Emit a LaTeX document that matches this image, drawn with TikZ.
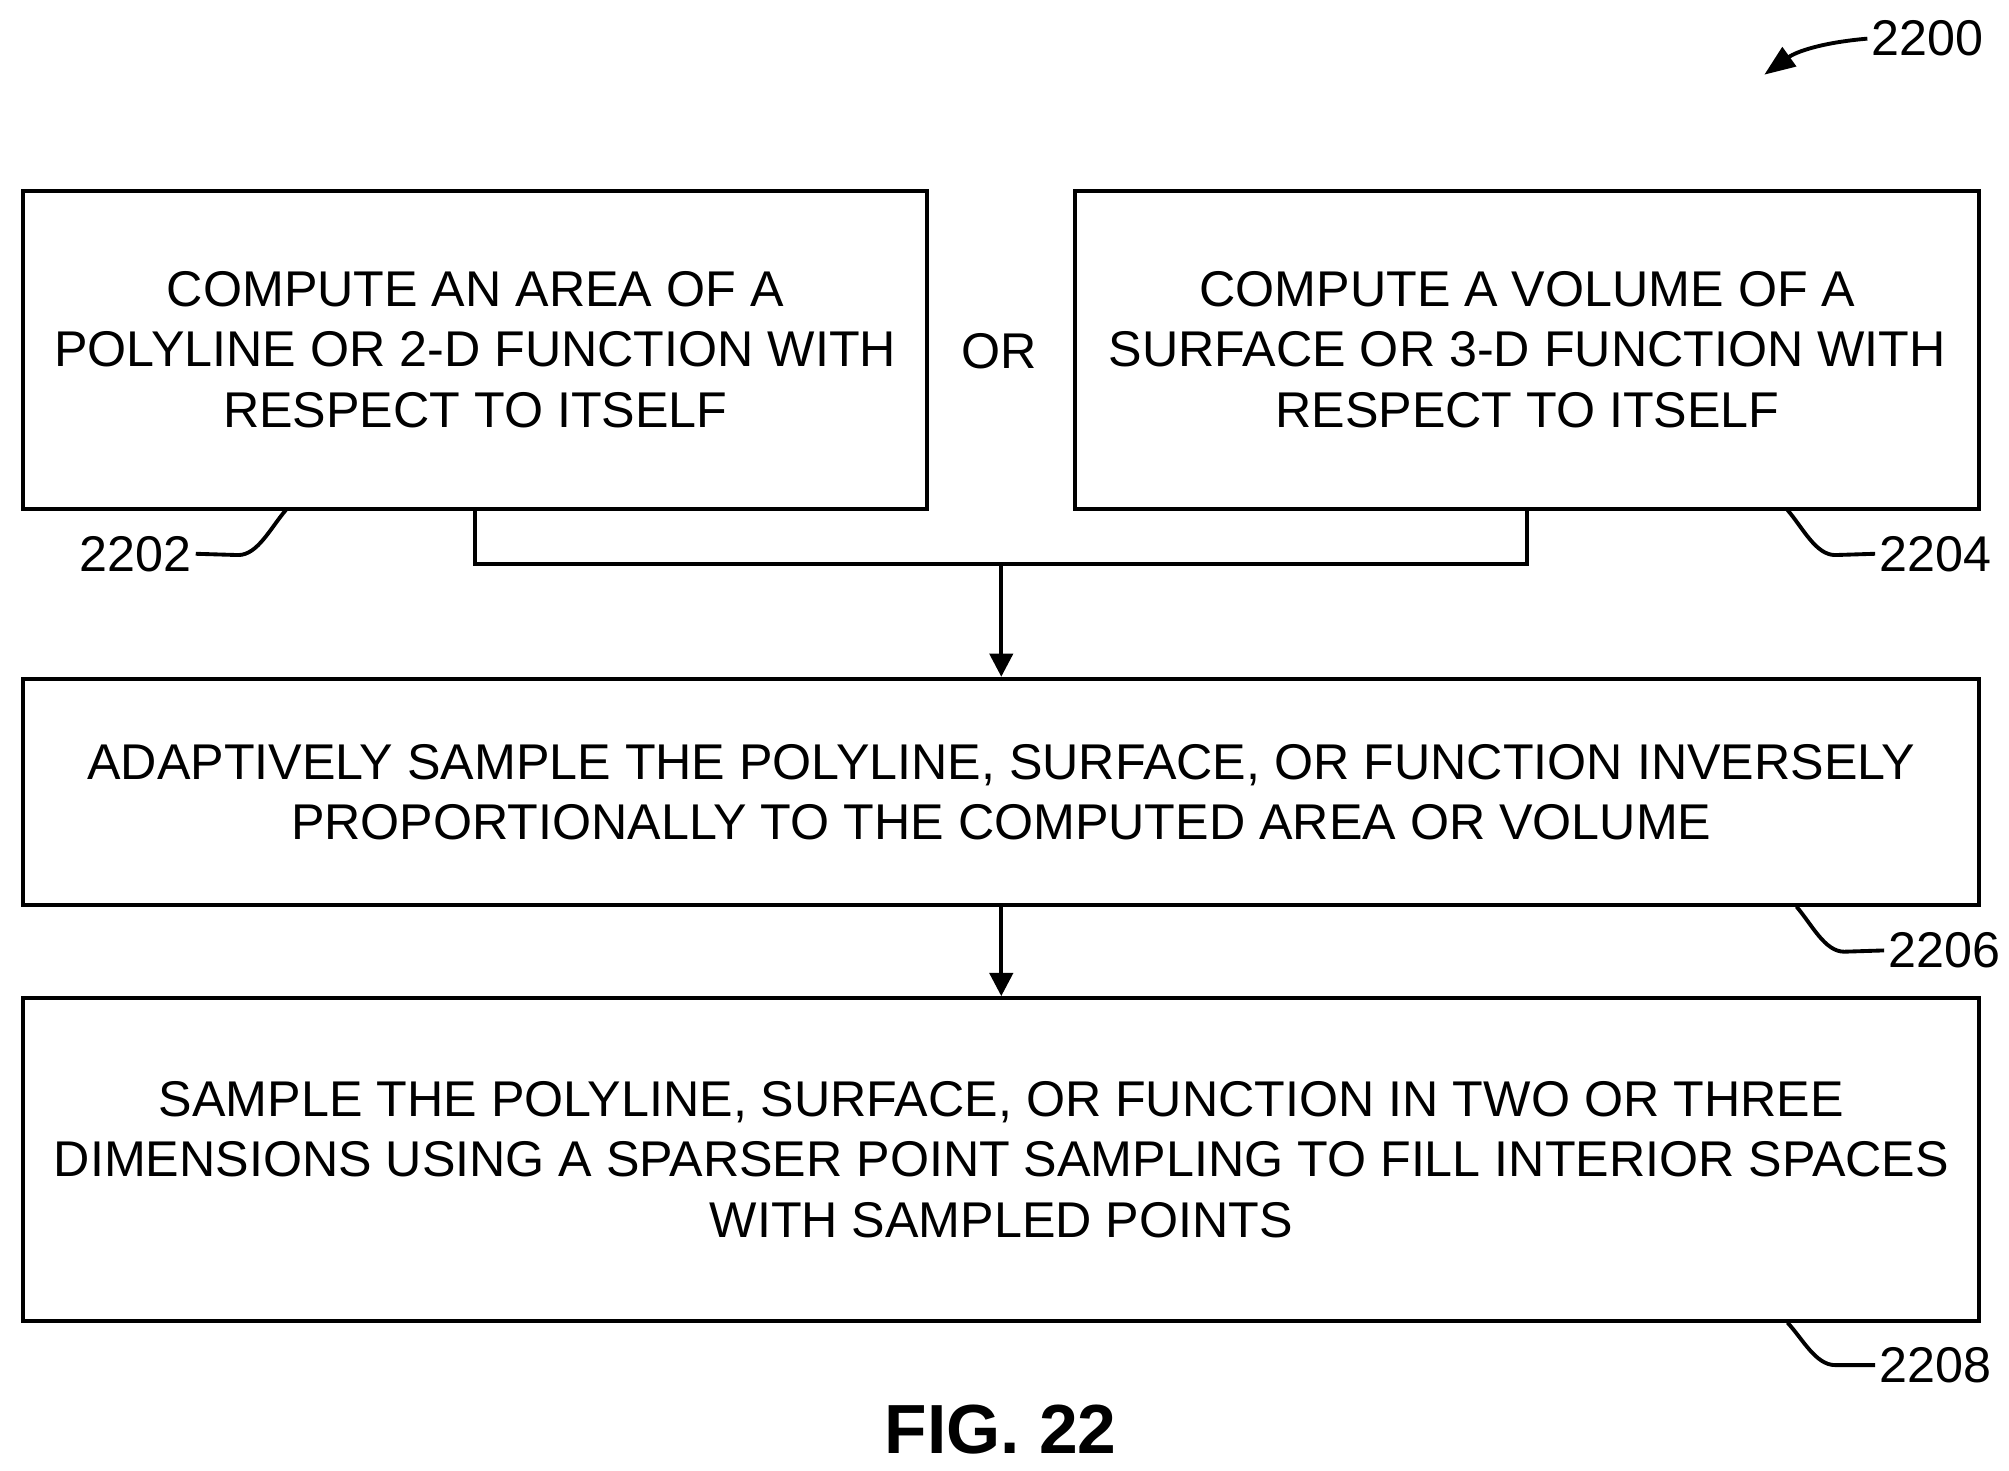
\documentclass[tikz,border=0pt]{standalone}
\usepackage{fontspec}
\setmainfont{Liberation Sans}
\usetikzlibrary{arrows.meta}
\tikzset{every picture/.style={line width=1.5pt}}
\tikzset{
  stepbox/.style={draw,rectangle,align=center,inner sep=0pt,
    font=\fontsize{19.5}{23.5}\selectfont},
  reflabel/.style={font=\fontsize{19.5}{23.5}\selectfont,inner sep=1pt},
  flow/.style={-{Triangle[length=9pt,width=9pt]}}
}

\begin{document}
\begin{tikzpicture}[x=0.5pt,y=0.5pt,yscale=-1,xscale=1]
        \useasboundingbox (0,0) rectangle (1560,1142);

        % Boxes
        \node [stepbox,minimum width=351pt,minimum height=123.5pt] (area) at (369,271.5)
          {COMPUTE AN AREA OF A\\POLYLINE OR 2-D FUNCTION WITH\\RESPECT TO ITSELF};
        \node [stepbox,minimum width=351pt,minimum height=123.5pt] (volume) at (1186,271.5)
          {COMPUTE A VOLUME OF A\\SURFACE OR 3-D FUNCTION WITH\\RESPECT TO ITSELF};
        \node [reflabel] (or) at (776,273) {OR};
        \node [stepbox,minimum width=759.5pt,minimum height=88pt] (adapt) at (777.5,615)
          {ADAPTIVELY SAMPLE THE POLYLINE, SURFACE, OR FUNCTION INVERSELY\\PROPORTIONALLY TO THE COMPUTED AREA OR VOLUME};
        \node [stepbox,minimum width=759.5pt,minimum height=125.5pt] (sparse) at (777.5,900.5)
          {SAMPLE THE POLYLINE, SURFACE, OR FUNCTION IN TWO OR THREE\\DIMENSIONS USING A SPARSER POINT SAMPLING TO FILL INTERIOR SPACES\\WITH SAMPLED POINTS};

        % Connectors
        \coordinate (join) at (777.5,438);
        \draw (area.south) |- (join) -| (volume.south);
        \draw [flow] (join) -- (adapt.north);
        \draw [flow] (adapt.south) -- (sparse.north);

        % Reference numerals
        \node [reflabel,anchor=west] (n2200) at (1450,30) {2200};
        \draw [-{Triangle[length=12pt,width=9pt]}] (n2200.west) .. controls (1415,33) and (1395,40) .. (1370,58);
        \node [reflabel,anchor=east] (n2202) at (152,430) {2202};
        \draw (n2202.east) -- (185,431) .. controls (200,431) and (210,410) .. (222,396);
        \node [reflabel,anchor=west] (n2204) at (1456,430) {2204};
        \draw (n2204.west) -- (1425,431) .. controls (1410,431) and (1400,410) .. (1388,396);
        \node [reflabel,anchor=west] (n2206) at (1463,738) {2206};
        \draw (n2206.west) -- (1432,739) .. controls (1417,739) and (1407,718) .. (1395,704);
        \node [reflabel,anchor=west] (n2208) at (1456,1060) {2208};
        \draw (n2208.west) -- (1425,1060) .. controls (1410,1060) and (1400,1040) .. (1388,1027);

        \node [font=\bfseries\fontsize{27}{30}\selectfont] (fig) at (777,1110) {FIG. 22};
\end{tikzpicture}
\end{document}
